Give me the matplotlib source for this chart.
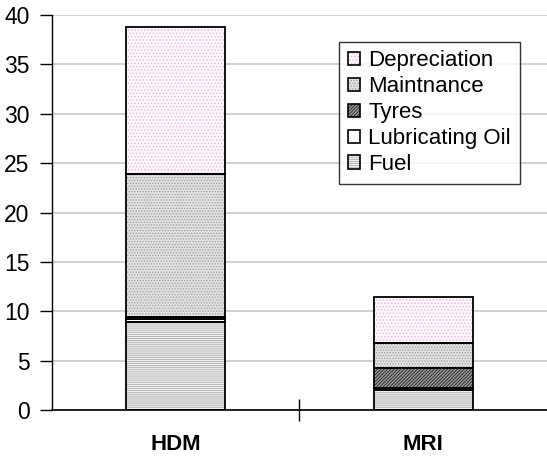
import matplotlib.pyplot as plt
import matplotlib.patches as mpatches
import numpy as np

plt.rcParams['font.family'] = ['Liberation Sans', 'DejaVu Sans']
plt.rcParams['hatch.linewidth'] = 0.6

# 数据
categories = ['HDM', 'MRI']
series_names = ['Fuel', 'Lubricating Oil', 'Tyres', 'Maintnance', 'Depreciation']
fuel = [8.9, 2.0]
lube_oil = [0.3, 0.2]
tyres = [0.2, 2.05]
maintenance = [14.5, 2.55]
depreciation = [14.9, 4.65]
y_ticks = [0, 5, 10, 15, 20, 25, 30, 35, 40]

# 样式: 底色 + 填充纹理
styles = {
    'Fuel': dict(face='#f4f4f4', hatch='--------', color='#a8a8a8'),
    'Lubricating Oil': dict(face='white', hatch='', color='white'),
    'Tyres': dict(face='#9a9a9a', hatch='//////////', color='#202020'),
    'Maintnance': dict(face='#e2e2e2', hatch='......', color='#9c9c9c'),
    'Depreciation': dict(face='#fdf8fc', hatch='.....', color='#e2b4de'),
}

fig = plt.figure(figsize=(5.47, 4.63), dpi=100)
ax = fig.add_axes([0.095, 0.1145, 0.905, 0.853])

x = np.arange(len(categories))
width = 0.4
bottom = np.zeros(len(categories))
values = [fuel, lube_oil, tyres, maintenance, depreciation]
for name, vals in zip(series_names, values):
    st = styles[name]
    ax.bar(x, vals, width, bottom=bottom, facecolor=st['face'],
           edgecolor=st['color'], hatch=st['hatch'], linewidth=0, zorder=2)
    ax.bar(x, vals, width, bottom=bottom, fill=False,
           edgecolor='black', linewidth=1.3, zorder=3)
    bottom += np.array(vals)

ax.set_xlim(-0.5, 1.5)
ax.set_ylim(0, 40)
ax.set_yticks(y_ticks)
ax.yaxis.grid(True, color='#c8c8c8', linewidth=1.2, zorder=0)
ax.set_axisbelow(True)

ax.set_xticks(x)
ax.set_xticklabels(categories, fontweight='bold', fontsize=16)
ax.tick_params(axis='x', which='major', length=0, pad=17)
ax.set_xticks([0.5], minor=True)
ax.tick_params(axis='x', which='minor', length=16, direction='inout', width=1)
ax.tick_params(axis='y', labelsize=16.5, length=9, width=1, direction='out', pad=7)

for s in ['top', 'right']:
    ax.spines[s].set_visible(False)
ax.spines['left'].set_linewidth(1)
ax.spines['bottom'].set_linewidth(1.2)

# 图例
handles = []
for name in ['Depreciation', 'Maintnance', 'Tyres', 'Lubricating Oil', 'Fuel']:
    st = styles[name]
    handles.append(mpatches.Patch(facecolor=st['face'], edgecolor=st['color'],
                                  hatch=st['hatch'], linewidth=0, label=name))
leg = ax.legend(handles=[(h, mpatches.Patch(fill=False, edgecolor='black', linewidth=1.2))
                         for h in handles],
                labels=[h.get_label() for h in handles],
                loc='upper right', bbox_to_anchor=(0.945, 0.933),
                fontsize=16, frameon=True, fancybox=False, edgecolor='black',
                handlelength=0.55, handleheight=0.55, handletextpad=0.35,
                labelspacing=0.22, borderpad=0.4, borderaxespad=0)
leg.get_frame().set_linewidth(1)

plt.savefig('out.png', dpi=100)
